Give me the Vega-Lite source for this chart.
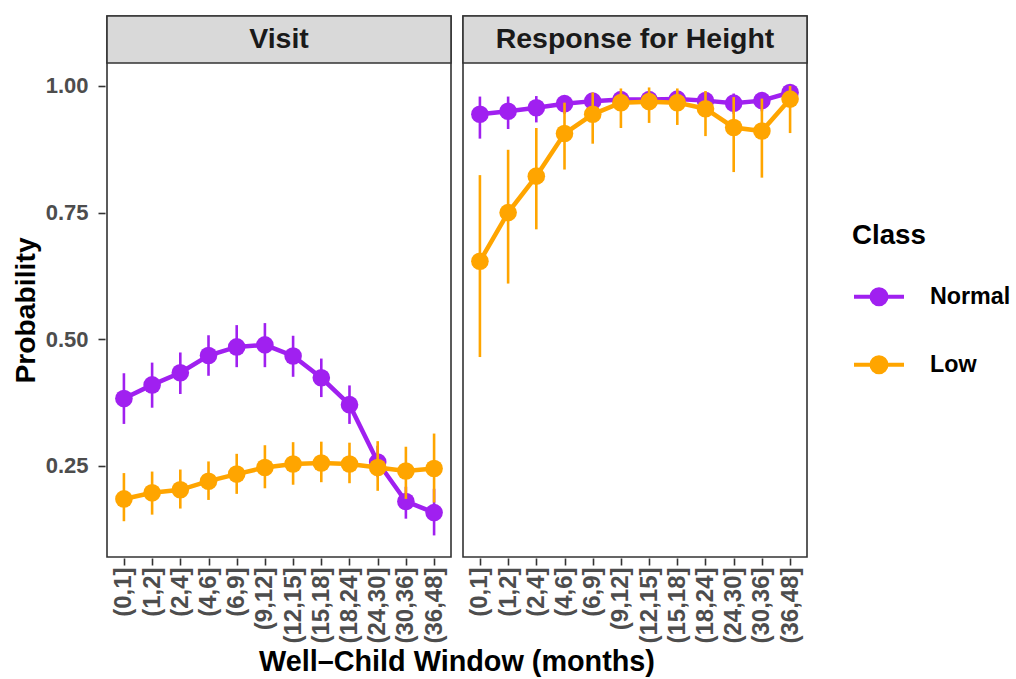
{
  "$schema": "https://vega.github.io/schema/vega-lite/v6.json",
  "autosize": {"type": "pad"},
  "padding": {"left": 11, "top": 14, "right": 0, "bottom": 0},
  "background": "white",
  "data": {
    "values": [
      {"panel": "Visit", "window": "(0,1]", "i": 1, "cls": "Normal", "p": 0.383, "lo": 0.333, "hi": 0.433},
      {"panel": "Visit", "window": "(1,2]", "i": 2, "cls": "Normal", "p": 0.410, "lo": 0.365, "hi": 0.454},
      {"panel": "Visit", "window": "(2,4]", "i": 3, "cls": "Normal", "p": 0.434, "lo": 0.392, "hi": 0.474},
      {"panel": "Visit", "window": "(4,6]", "i": 4, "cls": "Normal", "p": 0.468, "lo": 0.428, "hi": 0.508},
      {"panel": "Visit", "window": "(6,9]", "i": 5, "cls": "Normal", "p": 0.485, "lo": 0.445, "hi": 0.528},
      {"panel": "Visit", "window": "(9,12]", "i": 6, "cls": "Normal", "p": 0.489, "lo": 0.445, "hi": 0.532},
      {"panel": "Visit", "window": "(12,15]", "i": 7, "cls": "Normal", "p": 0.467, "lo": 0.426, "hi": 0.507},
      {"panel": "Visit", "window": "(15,18]", "i": 8, "cls": "Normal", "p": 0.424, "lo": 0.386, "hi": 0.462},
      {"panel": "Visit", "window": "(18,24]", "i": 9, "cls": "Normal", "p": 0.371, "lo": 0.333, "hi": 0.409},
      {"panel": "Visit", "window": "(24,30]", "i": 10, "cls": "Normal", "p": 0.258, "lo": 0.228, "hi": 0.290},
      {"panel": "Visit", "window": "(30,36]", "i": 11, "cls": "Normal", "p": 0.180, "lo": 0.146, "hi": 0.209},
      {"panel": "Visit", "window": "(36,48]", "i": 12, "cls": "Normal", "p": 0.158, "lo": 0.113, "hi": 0.205},
      {"panel": "Visit", "window": "(0,1]", "i": 1, "cls": "Low", "p": 0.185, "lo": 0.141, "hi": 0.236},
      {"panel": "Visit", "window": "(1,2]", "i": 2, "cls": "Low", "p": 0.197, "lo": 0.154, "hi": 0.239},
      {"panel": "Visit", "window": "(2,4]", "i": 3, "cls": "Low", "p": 0.203, "lo": 0.166, "hi": 0.243},
      {"panel": "Visit", "window": "(4,6]", "i": 4, "cls": "Low", "p": 0.220, "lo": 0.183, "hi": 0.259},
      {"panel": "Visit", "window": "(6,9]", "i": 5, "cls": "Low", "p": 0.234, "lo": 0.195, "hi": 0.274},
      {"panel": "Visit", "window": "(9,12]", "i": 6, "cls": "Low", "p": 0.247, "lo": 0.206, "hi": 0.291},
      {"panel": "Visit", "window": "(12,15]", "i": 7, "cls": "Low", "p": 0.254, "lo": 0.213, "hi": 0.297},
      {"panel": "Visit", "window": "(15,18]", "i": 8, "cls": "Low", "p": 0.256, "lo": 0.218, "hi": 0.298},
      {"panel": "Visit", "window": "(18,24]", "i": 9, "cls": "Low", "p": 0.254, "lo": 0.216, "hi": 0.296},
      {"panel": "Visit", "window": "(24,30]", "i": 10, "cls": "Low", "p": 0.247, "lo": 0.201, "hi": 0.299},
      {"panel": "Visit", "window": "(30,36]", "i": 11, "cls": "Low", "p": 0.240, "lo": 0.185, "hi": 0.288},
      {"panel": "Visit", "window": "(36,48]", "i": 12, "cls": "Low", "p": 0.245, "lo": 0.178, "hi": 0.314},
      {"panel": "Response for Height", "window": "(0,1]", "i": 1, "cls": "Normal", "p": 0.944, "lo": 0.896, "hi": 0.979},
      {"panel": "Response for Height", "window": "(1,2]", "i": 2, "cls": "Normal", "p": 0.950, "lo": 0.915, "hi": 0.979},
      {"panel": "Response for Height", "window": "(2,4]", "i": 3, "cls": "Normal", "p": 0.957, "lo": 0.928, "hi": 0.980},
      {"panel": "Response for Height", "window": "(4,6]", "i": 4, "cls": "Normal", "p": 0.965, "lo": 0.945, "hi": 0.980},
      {"panel": "Response for Height", "window": "(6,9]", "i": 5, "cls": "Normal", "p": 0.970, "lo": 0.952, "hi": 0.983},
      {"panel": "Response for Height", "window": "(9,12]", "i": 6, "cls": "Normal", "p": 0.973, "lo": 0.957, "hi": 0.985},
      {"panel": "Response for Height", "window": "(12,15]", "i": 7, "cls": "Normal", "p": 0.973, "lo": 0.957, "hi": 0.986},
      {"panel": "Response for Height", "window": "(15,18]", "i": 8, "cls": "Normal", "p": 0.974, "lo": 0.958, "hi": 0.986},
      {"panel": "Response for Height", "window": "(18,24]", "i": 9, "cls": "Normal", "p": 0.971, "lo": 0.952, "hi": 0.984},
      {"panel": "Response for Height", "window": "(24,30]", "i": 10, "cls": "Normal", "p": 0.966, "lo": 0.945, "hi": 0.985},
      {"panel": "Response for Height", "window": "(30,36]", "i": 11, "cls": "Normal", "p": 0.971, "lo": 0.950, "hi": 0.988},
      {"panel": "Response for Height", "window": "(36,48]", "i": 12, "cls": "Normal", "p": 0.987, "lo": 0.970, "hi": 0.996},
      {"panel": "Response for Height", "window": "(0,1]", "i": 1, "cls": "Low", "p": 0.654, "lo": 0.465, "hi": 0.824},
      {"panel": "Response for Height", "window": "(1,2]", "i": 2, "cls": "Low", "p": 0.750, "lo": 0.610, "hi": 0.874},
      {"panel": "Response for Height", "window": "(2,4]", "i": 3, "cls": "Low", "p": 0.822, "lo": 0.717, "hi": 0.917},
      {"panel": "Response for Height", "window": "(4,6]", "i": 4, "cls": "Low", "p": 0.906, "lo": 0.835, "hi": 0.967},
      {"panel": "Response for Height", "window": "(6,9]", "i": 5, "cls": "Low", "p": 0.944, "lo": 0.886, "hi": 0.987},
      {"panel": "Response for Height", "window": "(9,12]", "i": 6, "cls": "Low", "p": 0.967, "lo": 0.917, "hi": 0.995},
      {"panel": "Response for Height", "window": "(12,15]", "i": 7, "cls": "Low", "p": 0.969, "lo": 0.927, "hi": 0.997},
      {"panel": "Response for Height", "window": "(15,18]", "i": 8, "cls": "Low", "p": 0.967, "lo": 0.923, "hi": 0.995},
      {"panel": "Response for Height", "window": "(18,24]", "i": 9, "cls": "Low", "p": 0.955, "lo": 0.901, "hi": 0.990},
      {"panel": "Response for Height", "window": "(24,30]", "i": 10, "cls": "Low", "p": 0.918, "lo": 0.830, "hi": 0.978},
      {"panel": "Response for Height", "window": "(30,36]", "i": 11, "cls": "Low", "p": 0.911, "lo": 0.819, "hi": 0.975},
      {"panel": "Response for Height", "window": "(36,48]", "i": 12, "cls": "Low", "p": 0.974, "lo": 0.907, "hi": 1.000}
    ]
  },
  "facet": {
    "column": {
      "field": "panel",
      "type": "nominal",
      "sort": ["Visit", "Response for Height"],
      "header": {
        "labels": false,
        "title": "Well–Child Window (months)",
        "titleOrient": "bottom",
        "titleFont": "Liberation Sans",
        "titleFontSize": 28.8,
        "titleFontWeight": "bold",
        "titleColor": "#000000",
        "titlePadding": -6
      }
    }
  },
  "spacing": 8,
  "spec": {
    "width": 344,
    "height": 541,
    "encoding": {
      "y": {
        "field": "p",
        "type": "quantitative",
        "scale": {"domain": [0.0704, 1.138], "nice": false, "zero": false},
        "axis": {
          "title": "Probability",
          "titleY": 294,
          "values": [0.25, 0.5, 0.75, 1.0],
          "format": ".2f",
          "labelFont": "Liberation Sans",
          "labelFontSize": 22,
          "labelFontWeight": "bold",
          "labelColor": "#4d4d4d",
          "labelPadding": 10,
          "titleFont": "Liberation Sans",
          "titleFontSize": 28.3,
          "titleFontWeight": "bold",
          "titleColor": "#000000",
          "titlePadding": 5,
          "tickColor": "#333333",
          "tickWidth": 1.6,
          "tickSize": 7,
          "domain": false,
          "grid": false
        }
      }
    },
    "layer": [
      {
        "transform": [{"filter": "datum.i === 1 && datum.cls === 'Normal'"}],
        "mark": {"type": "rect", "fill": "#d9d9d9", "stroke": "#333333", "strokeWidth": 1.6, "x": 0, "x2": "width"},
        "encoding": {
          "y": {"datum": 1.0453, "type": "quantitative"},
          "y2": {"datum": 1.138}
        }
      },
      {
        "transform": [{"filter": "datum.i === 1 && datum.cls === 'Normal'"}],
        "mark": {"type": "text", "font": "Liberation Sans", "fontSize": 28.5, "fontWeight": "bold", "color": "#1a1a1a", "align": "center", "baseline": "middle", "x": {"expr": "child_width / 2"}},
        "encoding": {
          "y": {"datum": 1.0917, "type": "quantitative"},
          "text": {"field": "panel", "type": "nominal"}
        }
      },
      {
        "encoding": {
          "x": {
            "field": "window",
            "type": "ordinal",
            "sort": ["(0,1]", "(1,2]", "(2,4]", "(4,6]", "(6,9]", "(9,12]", "(12,15]", "(15,18]", "(18,24]", "(24,30]", "(30,36]", "(36,48]"],
            "scale": {"type": "point", "padding": 0.6},
            "axis": {
              "title": null,
              "labelAngle": 270,
              "labelFont": "Liberation Sans",
              "labelFontSize": 24,
              "labelFontWeight": "bold",
              "labelColor": "#4d4d4d",
              "labelPadding": 2,
              "tickColor": "#333333",
              "tickWidth": 1.6,
              "tickSize": 7,
              "domain": false,
              "grid": false
            }
          },
          "order": {"field": "i", "type": "quantitative"},
          "color": {
            "field": "cls",
            "type": "nominal",
            "scale": {"domain": ["Normal", "Low"], "range": ["#A020F0", "#FFA500"]},
            "legend": {
              "title": "Class",
              "orient": "none",
              "legendX": 745,
              "legendY": 206,
              "padding": 0,
              "titleFont": "Liberation Sans",
              "titleFontSize": 27.7,
              "titleFontWeight": "bold",
              "titleColor": "#000000",
              "titlePadding": 20,
              "labelFont": "Liberation Sans",
              "labelFontSize": 23.3,
              "labelFontWeight": "bold",
              "labelColor": "#000000",
              "labelOffset": 24,
              "rowPadding": 25,
              "symbolType": "M-1,0L1,0M-0.3,0A0.3,0.3,0,1,1,0.3,0A0.3,0.3,0,1,1,-0.3,0Z",
              "symbolSize": 2500,
              "symbolStrokeWidth": 4,
              "encode": {
                "symbols": {
                  "update": {
                    "fill": {"scale": "color", "field": "value"},
                    "stroke": {"scale": "color", "field": "value"},
                    "opacity": {"value": 1},
                    "fillOpacity": {"value": 1},
                    "strokeOpacity": {"value": 1}
                  }
                }
              }
            }
          }
        },
        "layer": [
          {
            "transform": [{"filter": "datum.cls === 'Normal'"}],
            "mark": {"type": "rule", "strokeWidth": 2.6},
            "encoding": {
              "y": {"field": "lo", "type": "quantitative"},
              "y2": {"field": "hi"}
            }
          },
          {
            "transform": [{"filter": "datum.cls === 'Normal'"}],
            "mark": {"type": "line", "strokeWidth": 4.5},
            "encoding": {}
          },
          {
            "transform": [{"filter": "datum.cls === 'Normal'"}],
            "mark": {"type": "circle", "size": 310, "opacity": 1},
            "encoding": {}
          },
          {
            "transform": [{"filter": "datum.cls === 'Low'"}],
            "mark": {"type": "rule", "strokeWidth": 2.6},
            "encoding": {
              "y": {"field": "lo", "type": "quantitative"},
              "y2": {"field": "hi"}
            }
          },
          {
            "transform": [{"filter": "datum.cls === 'Low'"}],
            "mark": {"type": "line", "strokeWidth": 4.5},
            "encoding": {}
          },
          {
            "transform": [{"filter": "datum.cls === 'Low'"}],
            "mark": {"type": "circle", "size": 310, "opacity": 1},
            "encoding": {}
          }
        ]
      }
    ]
  },
  "config": {
    "view": {"stroke": "#333333", "strokeWidth": 1.6},
    "font": "Liberation Sans"
  }
}
